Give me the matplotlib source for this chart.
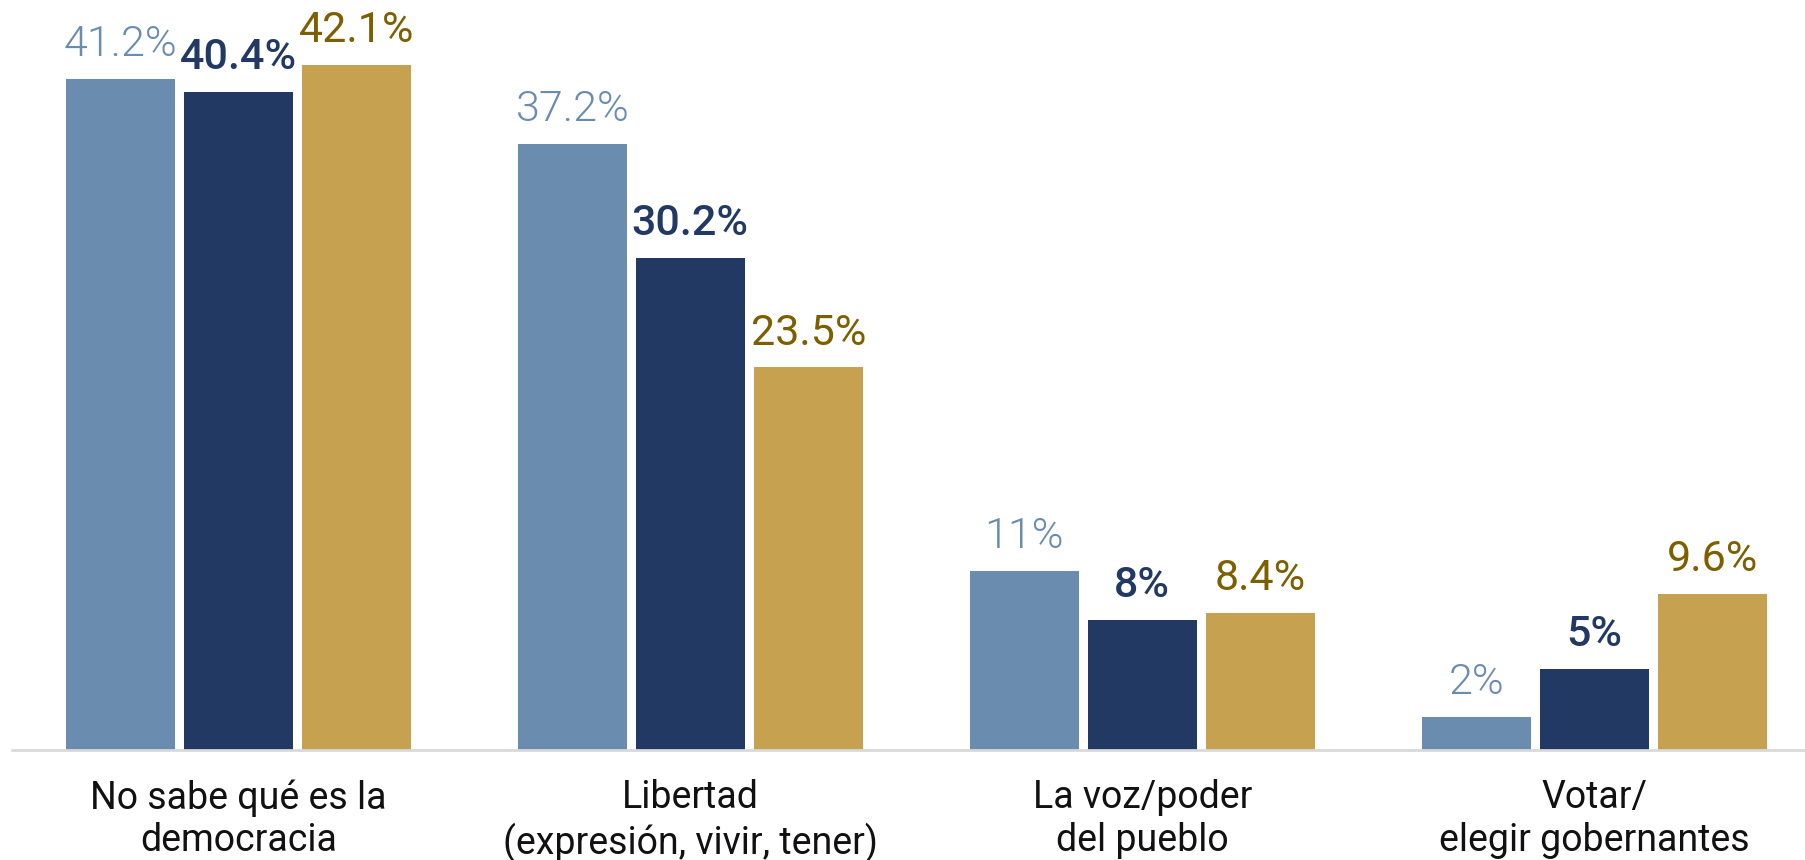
import numpy as np
import matplotlib.pyplot as plt

# Data
categories = ['No sabe qué es la\ndemocracia',
              'Libertad\n(expresión, vivir, tener)',
              'La voz/poder\ndel pueblo',
              'Votar/\nelegir gobernantes']
serie_a = [41.2, 37.2, 11, 2]
serie_b = [40.4, 30.2, 8, 5]
serie_c = [42.1, 23.5, 8.4, 9.6]
labels_a = ['41.2%', '37.2%', '11%', '2%']
labels_b = ['40.4%', '30.2%', '8%', '5%']
labels_c = ['42.1%', '23.5%', '8.4%', '9.6%']

bar_colors = ['#6a8caf', '#213963', '#c6a250']
text_colors = ['#6a8caf', '#213963', '#7d5f00']
weights = [300, 500, 400]

plt.rcParams['font.family'] = ['Roboto', 'DejaVu Sans']

fig = plt.figure(figsize=(18.05, 8.6), dpi=100)
ax = fig.add_axes([12 / 1805, 0.128, 1 - 12 / 1805, 0.872])

x = np.arange(len(categories))
width = 0.242
step = 0.261
series = [(serie_a, labels_a), (serie_b, labels_b), (serie_c, labels_c)]
for i, (vals, labs) in enumerate(series):
    pos = x + (i - 1) * step
    bars = ax.bar(pos, vals, width, color=bar_colors[i], zorder=2)
    for b, lab in zip(bars, labs):
        ax.annotate(lab, (b.get_x() + b.get_width() / 2, b.get_height()),
                    xytext=(0, 10), textcoords='offset points',
                    ha='center', va='bottom', fontsize=31,
                    color=text_colors[i], fontweight=weights[i])

ax.set_xlim(-0.5007, 3.466)
ax.set_ylim(0, 46.07)
ax.set_xticks(x)
ax.set_xticklabels(categories, fontsize=27, color='#111111', linespacing=1.2)
ax.tick_params(axis='x', length=0, pad=21)
ax.set_yticks([])
for s in ['top', 'right', 'left']:
    ax.spines[s].set_visible(False)
ax.spines['bottom'].set_color('#d9d9d9')
ax.spines['bottom'].set_linewidth(2)

fig.savefig('out.png', dpi=100)
